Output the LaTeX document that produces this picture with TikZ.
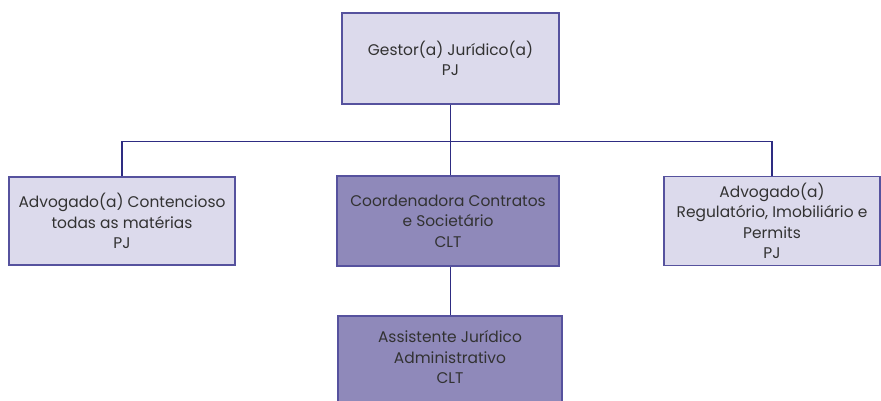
\documentclass[tikz,border=0pt]{standalone}
\usepackage{fontspec}
\setmainfont{Poppins}
\definecolor{lightbox}{RGB}{220,218,236}
\definecolor{darkbox}{RGB}{143,137,186}
\definecolor{boxline}{RGB}{86,82,158}
\definecolor{wire}{RGB}{46,44,130}
\definecolor{txt}{RGB}{50,50,50}
\tikzset{
  post/.style={draw=boxline, line width=1.6bp, align=center, text=txt,
    inner sep=2bp, font=\fontsize{15.5}{20.5}\selectfont},
  pj/.style={post, fill=lightbox},
  clt/.style={post, fill=darkbox},
  wire/.style={draw=wire, line width=1.3bp}
}
\begin{document}
\begin{tikzpicture}[x=1bp, y=1bp]
                \useasboundingbox (0,0) rectangle (881,400);

                \node [pj, minimum width=217bp, minimum height=91bp] (gestor) at (450.5,341.5)
                  {Gestor(a) Jurídico(a)\\PJ};

                \node [pj, minimum width=226bp, minimum height=88bp] (contencioso) at (122,179)
                  {Advogado(a) Contencioso\\todas as matérias\\PJ};
                \node [clt, minimum width=222bp, minimum height=90bp] (coord) at (448,179)
                  {Coordenadora Contratos\\e Societário\\CLT};
                \node [pj, minimum width=216bp, minimum height=89bp] (regulatorio) at (772,179)
                  {Advogado(a)\\Regulatório, Imobiliário e\\Permits\\PJ};

                \node [clt, minimum width=224bp, minimum height=96bp] (assistente) at (450,36)
                  {Assistente Jurídico\\Administrativo\\CLT\\[-6.5bp]};

                % ligacoes
                \draw [wire] (gestor.south) -- ++(0,-37) coordinate (bus);
                \draw [wire] (contencioso.north) |- (bus) -| (regulatorio.north);
                \draw [wire] (bus) -- (coord.north -| bus);
                \draw [wire] (coord.south -| bus) -- (assistente.north -| bus);
            \end{tikzpicture}
\end{document}
